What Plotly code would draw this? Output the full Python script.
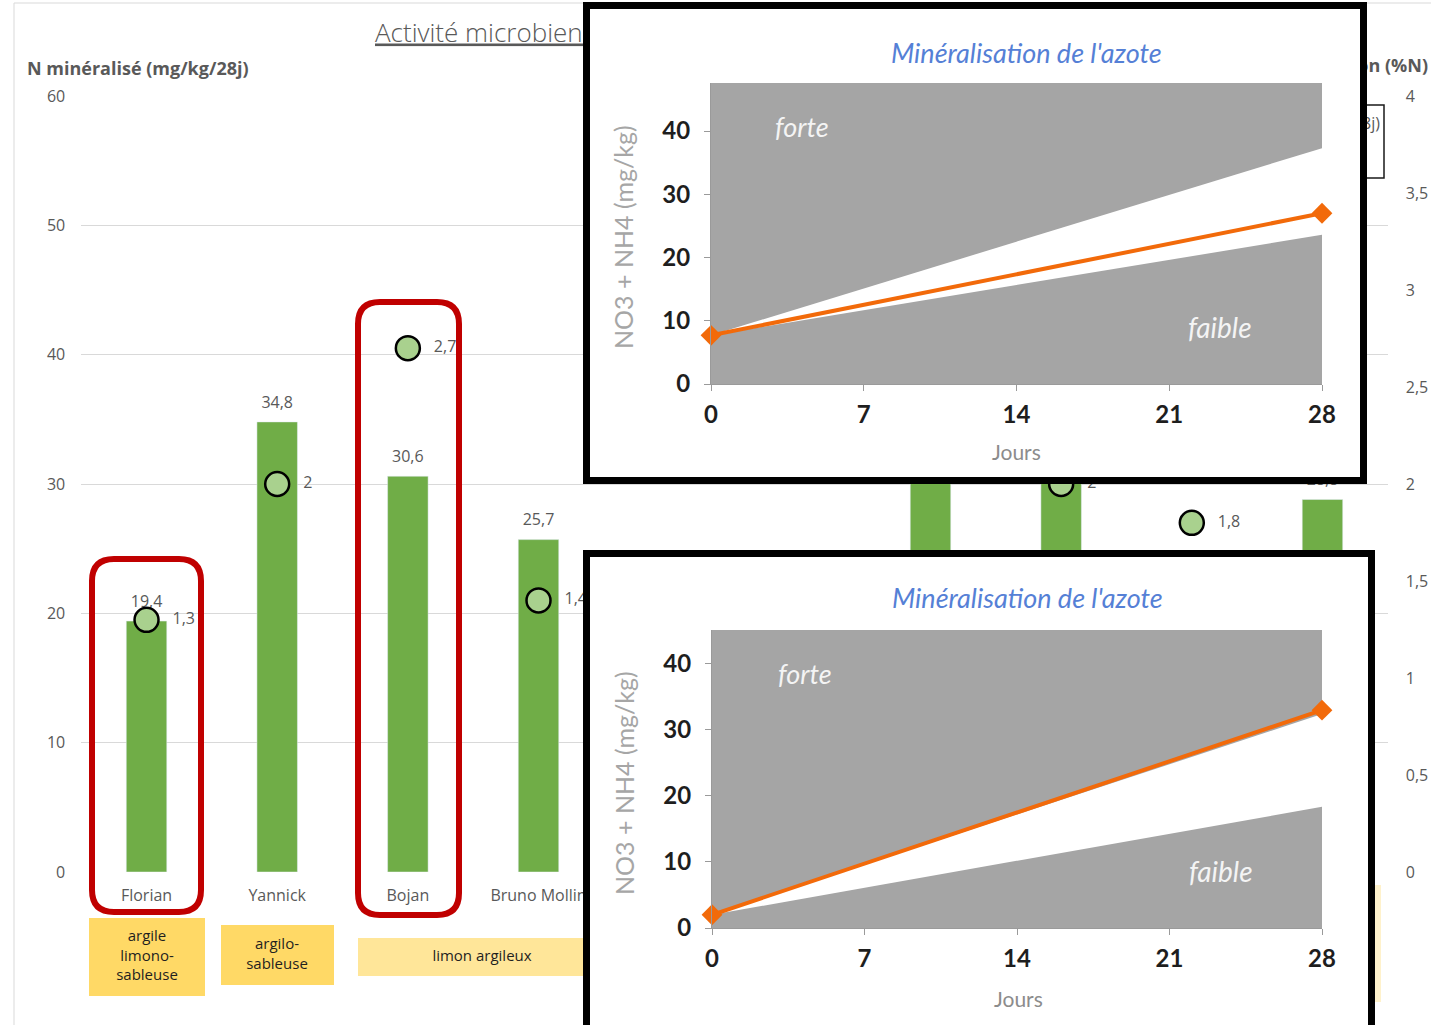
import plotly.graph_objects as go

W, H = 1431, 1025

# ---------------- main chart data ----------------
agriculteurs = ["Florian", "Yannick", "Bojan", "Bruno Mollin", "Parcelle 5",
                "Parcelle 6", "Parcelle 7", "Parcelle 8", "Parcelle 9", "Parcelle 10"]
n_mineralise = [19.4, 34.8, 30.6, 25.7, 22.0, 18.5, 36.0, 33.5, 21.0, 28.8]
taux_mineralisation = [1.3, 2.0, 2.7, 1.4, 1.5, 1.2, 2.4, 2.0, 1.8, 1.5]
left_ticks = [0, 10, 20, 30, 40, 50, 60]
right_ticks = [0, 0.5, 1, 1.5, 2, 2.5, 3, 3.5, 4]

# soil texture labels under the first farms
textures = ["argile<br>limono-<br>sableuse", "argilo-<br>sableuse", "limon argileux"]

# ---------------- inset charts data ----------------
jours = [0, 28]
jours_ticks = [0, 7, 14, 21, 28]
n_ticks = [0, 10, 20, 30, 40]

haut_suivi = [7.7, 27.0]
haut_faible = [7.7, 23.6]
haut_forte = [7.7, 37.3]
haut_max = 47.6

bas_suivi = [2.0, 32.9]
bas_faible = [2.0, 18.3]
bas_forte = [2.0, 32.3]
bas_max = 45.0


def fr(v):
    return f"{v:g}".replace(".", ",")


def px(x):
    return x / W


def py(y):
    return 1 - y / H


MAIN_FONT = "Open Sans"
INSET_FONT = "Lato"
GREY_TXT = "#595959"
GREEN = "#70ad47"
LIGHT_GREEN = "#a9d18e"
ORANGE = "#f26a0a"
ZONE_GREY = "#a5a5a5"

fig = go.Figure()

# ---------- underlay (pixel frame) : title, axis title, legend, soil boxes ----------
fig.add_trace(go.Scatter(
    x=[375], y=[35], mode="text", text=["Activité microbienne des sols"],
    textposition="middle right",
    textfont=dict(family=MAIN_FONT, size=26, color=GREY_TXT, weight=300,
                  lineposition="under"),
    xaxis="x", yaxis="y", hoverinfo="skip"))
fig.add_trace(go.Scatter(
    x=[1428], y=[67], mode="text", text=["<b>Minéralisation (%N)</b>"],
    textposition="middle left",
    textfont=dict(family=MAIN_FONT, size=18, color=GREY_TXT),
    xaxis="x", yaxis="y", hoverinfo="skip"))
# legend content
fig.add_trace(go.Scatter(
    x=[1150], y=[125], mode="markers", marker=dict(symbol="square", size=12, color=GREEN),
    xaxis="x", yaxis="y", hoverinfo="skip"))
fig.add_trace(go.Scatter(
    x=[1150], y=[157], mode="markers",
    marker=dict(symbol="circle", size=13, color=LIGHT_GREEN, line=dict(color="black", width=2)),
    xaxis="x", yaxis="y", hoverinfo="skip"))
fig.add_trace(go.Scatter(
    x=[1380], y=[125], mode="text", text=["N minéralisé (mg/kg/28j)"],
    textposition="middle left", textfont=dict(family=MAIN_FONT, size=16, color=GREY_TXT),
    xaxis="x", yaxis="y", hoverinfo="skip"))
fig.add_trace(go.Scatter(
    x=[1168], y=[157], mode="text", text=["Minéralisation (%N)"],
    textposition="middle right", textfont=dict(family=MAIN_FONT, size=16, color=GREY_TXT),
    xaxis="x", yaxis="y", hoverinfo="skip"))
# soil texture labels
fig.add_trace(go.Scatter(
    x=[147, 277, 482], y=[957, 955, 957], mode="text", text=textures,
    textposition="middle center", textfont=dict(family=MAIN_FONT, size=15, color="#1f1f1f"),
    xaxis="x", yaxis="y", hoverinfo="skip"))

# ---------------- main chart ----------------
fig.add_trace(go.Bar(
    x=agriculteurs, y=n_mineralise, width=0.31, marker=dict(color=GREEN),
    xaxis="x2", yaxis="y2", hoverinfo="skip"))
fig.add_trace(go.Scatter(
    x=agriculteurs, y=n_mineralise, mode="markers+text",
    text=[fr(v) for v in n_mineralise], textposition="top center",
    marker=dict(size=15, color="rgba(0,0,0,0)"),
    textfont=dict(family=MAIN_FONT, size=16, color=GREY_TXT),
    xaxis="x2", yaxis="y2", hoverinfo="skip", cliponaxis=False))
fig.add_trace(go.Scatter(
    x=agriculteurs, y=taux_mineralisation, mode="markers",
    marker=dict(size=24, color=LIGHT_GREEN, line=dict(color="black", width=2.5)),
    xaxis="x2", yaxis="y3", hoverinfo="skip", cliponaxis=False))
fig.add_trace(go.Scatter(
    x=agriculteurs, y=taux_mineralisation, mode="markers+text",
    text=[fr(v) for v in taux_mineralisation], textposition="middle right",
    marker=dict(size=40, color="rgba(0,0,0,0)"),
    textfont=dict(family=MAIN_FONT, size=16, color=GREY_TXT),
    xaxis="x2", yaxis="y3", hoverinfo="skip", cliponaxis=False))

# ---------------- insets ----------------
def add_inset(box_x, box_y, plot_x, plot_y, suivi, faible, forte, zmax, n):
    bx, by, pxa, pya = f"x{n}", f"y{n}", f"x{n+1}", f"y{n+1}"
    # white card behind the inset
    fig.add_trace(go.Scatter(
        x=[0, 1, 1, 0, 0], y=[0, 0, 1, 1, 0], mode="lines", fill="toself",
        fillcolor="white", line=dict(width=0, color="white"),
        xaxis=bx, yaxis=by, hoverinfo="skip"))
    # grey zones (forte above, faible below) with the expected corridor left white
    fig.add_trace(go.Scatter(
        x=[0, 28, 28, 0, 0], y=[0, 0, zmax, zmax, 0], mode="lines", fill="toself",
        fillcolor=ZONE_GREY, line=dict(width=0, color=ZONE_GREY),
        xaxis=pxa, yaxis=pya, hoverinfo="skip"))
    fig.add_trace(go.Scatter(
        x=[jours[0], jours[1], jours[1], jours[0]],
        y=[faible[0], forte[1], faible[1], faible[0]],
        mode="lines", fill="toself", fillcolor="white", line=dict(width=0, color="white"),
        xaxis=pxa, yaxis=pya, hoverinfo="skip"))
    fig.add_trace(go.Scatter(
        x=jours, y=suivi, mode="lines+markers",
        line=dict(color=ORANGE, width=4),
        marker=dict(symbol="diamond", size=16, color=ORANGE),
        xaxis=pxa, yaxis=pya, hoverinfo="skip", cliponaxis=False))

    hidden = dict(visible=False, fixedrange=True, automargin=False)
    fig.layout[f"xaxis{n}"] = dict(domain=[px(box_x[0]), px(box_x[1])], range=[0, 1],
                                   anchor=by, **hidden)
    fig.layout[f"yaxis{n}"] = dict(domain=[max(0, py(box_y[1])), py(box_y[0])], range=[0, 1],
                                   anchor=bx, **hidden)
    tickfont = dict(family=INSET_FONT, size=24, color="#1e1e1e", weight="bold")
    common = dict(showgrid=False, zeroline=False, showline=True, linecolor="#9a9a9a",
                  ticks="outside", ticklen=6, tickcolor="#9a9a9a", tickfont=tickfont,
                  fixedrange=True, automargin=False)
    fig.layout[f"xaxis{n+1}"] = dict(domain=[px(plot_x[0]), px(plot_x[1])], range=[0, 28],
                                     anchor=pya, tickvals=jours_ticks,
                                     ticktext=[str(t) for t in jours_ticks],
                                     ticklabelstandoff=3, **common)
    fig.layout[f"yaxis{n+1}"] = dict(domain=[py(plot_y[1]), py(plot_y[0])], range=[0, zmax],
                                     anchor=pxa, tickvals=n_ticks,
                                     ticktext=[str(t) for t in n_ticks],
                                     ticklabelstandoff=9, **common)


add_inset((583, 1367), (2, 484), (711, 1322), (83, 384),
          haut_suivi, haut_faible, haut_forte, haut_max, 4)
add_inset((583, 1375), (550, 1025), (712, 1322), (630, 928),
          bas_suivi, bas_faible, bas_forte, bas_max, 6)

# ---------------- axes ----------------
main_font = dict(family=MAIN_FONT, size=16, color=GREY_TXT)
fig.update_layout(
    xaxis=dict(domain=[0, 1], range=[0, W], visible=False, fixedrange=True, anchor="y",
               automargin=False),
    yaxis=dict(domain=[0, 1], range=[H, 0], visible=False, fixedrange=True, anchor="x",
               automargin=False),
    xaxis2=dict(domain=[px(81.2), px(1387.8)], anchor="y2", type="category",
                range=[-0.5, 9.5], showgrid=False, showline=False, zeroline=False,
                ticks="", tickfont=main_font, ticklabelstandoff=12, fixedrange=True,
                automargin=False),
    yaxis2=dict(domain=[py(872), py(96)], anchor="x2", range=[0, 60],
                tickvals=left_ticks, ticktext=[fr(v) for v in left_ticks],
                showgrid=True, gridcolor="#d9d9d9", gridwidth=1.3, zeroline=False,
                showline=False, ticks="", tickfont=main_font, ticklabelstandoff=15,
                fixedrange=True, automargin=False),
    yaxis3=dict(overlaying="y2", side="right", anchor="x2", range=[0, 4],
                tickvals=right_ticks, ticktext=[fr(v) for v in right_ticks],
                showgrid=False, zeroline=False, showline=False, ticks="",
                tickfont=main_font, ticklabelstandoff=17, fixedrange=True,
                automargin=False),
)

# ---------------- shapes ----------------
shapes = []
# chart area frame
shapes.append(dict(type="rect", xref="x", yref="y", x0=14, y0=3, x1=1445, y1=1040,
                   line=dict(color="#d9d9d9", width=1), layer="below"))
# soil texture boxes
for (x0, y0, x1, y1, col) in [(89, 918, 205, 996, "#ffd966"),
                              (221, 925, 334, 985, "#ffd966"),
                              (358, 938, 606, 976, "#ffe699"),
                              (1250, 885, 1381, 1002, "#fff2cc")]:
    shapes.append(dict(type="rect", xref="x", yref="y", x0=x0, y0=y0, x1=x1, y1=y1,
                       fillcolor=col, line=dict(width=0), layer="below"))
# legend frame
shapes.append(dict(type="rect", xref="x", yref="y", x0=1130, y0=105, x1=1384, y1=178,
                   line=dict(color="#1a1a1a", width=1.5), layer="below"))


def rounded(x0, y0, x1, y1, r):
    return (f"M {x0+r},{y0} L {x1-r},{y0} Q {x1},{y0} {x1},{y0+r} "
            f"L {x1},{y1-r} Q {x1},{y1} {x1-r},{y1} L {x0+r},{y1} "
            f"Q {x0},{y1} {x0},{y1-r} L {x0},{y0+r} Q {x0},{y0} {x0+r},{y0} Z")


for (x0, y0, x1, y1) in [(92, 559, 201, 912), (358, 302, 459, 915)]:
    shapes.append(dict(type="path", xref="x", yref="y", path=rounded(x0, y0, x1, y1, 22),
                       line=dict(color="#c00000", width=6), layer="above"))

# black frames of the two insets
shapes.append(dict(type="rect", xref="paper", yref="paper",
                   x0=px(586.5), x1=px(1363.5), y0=py(480.5), y1=py(5.5),
                   line=dict(color="black", width=7), layer="above"))
shapes.append(dict(type="rect", xref="paper", yref="paper",
                   x0=px(586.5), x1=px(1371.5), y0=py(1040), y1=py(553.5),
                   line=dict(color="black", width=7), layer="above"))

# ---------------- annotations ----------------
ann = []
ann.append(dict(x=px(25), y=py(68), xref="paper", yref="paper", xanchor="left",
                yanchor="middle", showarrow=False, text="<b>N minéralisé (mg/kg/28j)</b>",
                font=dict(family=MAIN_FONT, size=18, color=GREY_TXT)))

for (tx, ty, yt_x, yt_y, jx, jy, fx, fy, fbx, fby) in [
        (1026, 52, 623, 237, 1017, 452, 773, 126, 1186, 327),
        (1027, 597, 624, 783, 1018, 998, 776, 673, 1187, 871)]:
    ann.append(dict(x=px(tx), y=py(ty), xref="paper", yref="paper", showarrow=False,
                    xanchor="center", yanchor="middle", text="<i>Minéralisation de l'azote</i>",
                    font=dict(family=INSET_FONT, size=27, color="#5580d6")))
    ann.append(dict(x=px(yt_x), y=py(yt_y), xref="paper", yref="paper", showarrow=False,
                    xanchor="center", yanchor="middle", textangle=-90,
                    text="NO3 + NH4 (mg/kg)",
                    font=dict(family=INSET_FONT, size=25, color="#a6a6a6")))
    ann.append(dict(x=px(jx), y=py(jy), xref="paper", yref="paper", showarrow=False,
                    xanchor="center", yanchor="middle", text="Jours",
                    font=dict(family=INSET_FONT, size=21, color="#8c8c8c")))
    ann.append(dict(x=px(fx), y=py(fy), xref="paper", yref="paper", showarrow=False,
                    xanchor="left", yanchor="middle", text="<i>forte</i>",
                    font=dict(family=INSET_FONT, size=27, color="#f4f4f4")))
    ann.append(dict(x=px(fbx), y=py(fby), xref="paper", yref="paper", showarrow=False,
                    xanchor="left", yanchor="middle", text="<i>faible</i>",
                    font=dict(family=INSET_FONT, size=28, color="#f4f4f4")))

fig.update_layout(
    width=W, height=H, margin=dict(l=0, r=0, t=0, b=0, pad=0, autoexpand=False),
    paper_bgcolor="white", plot_bgcolor="rgba(0,0,0,0)",
    showlegend=False, separators=", ", shapes=shapes, annotations=ann,
    hovermode=False,
)

fig.write_html("out.html")
